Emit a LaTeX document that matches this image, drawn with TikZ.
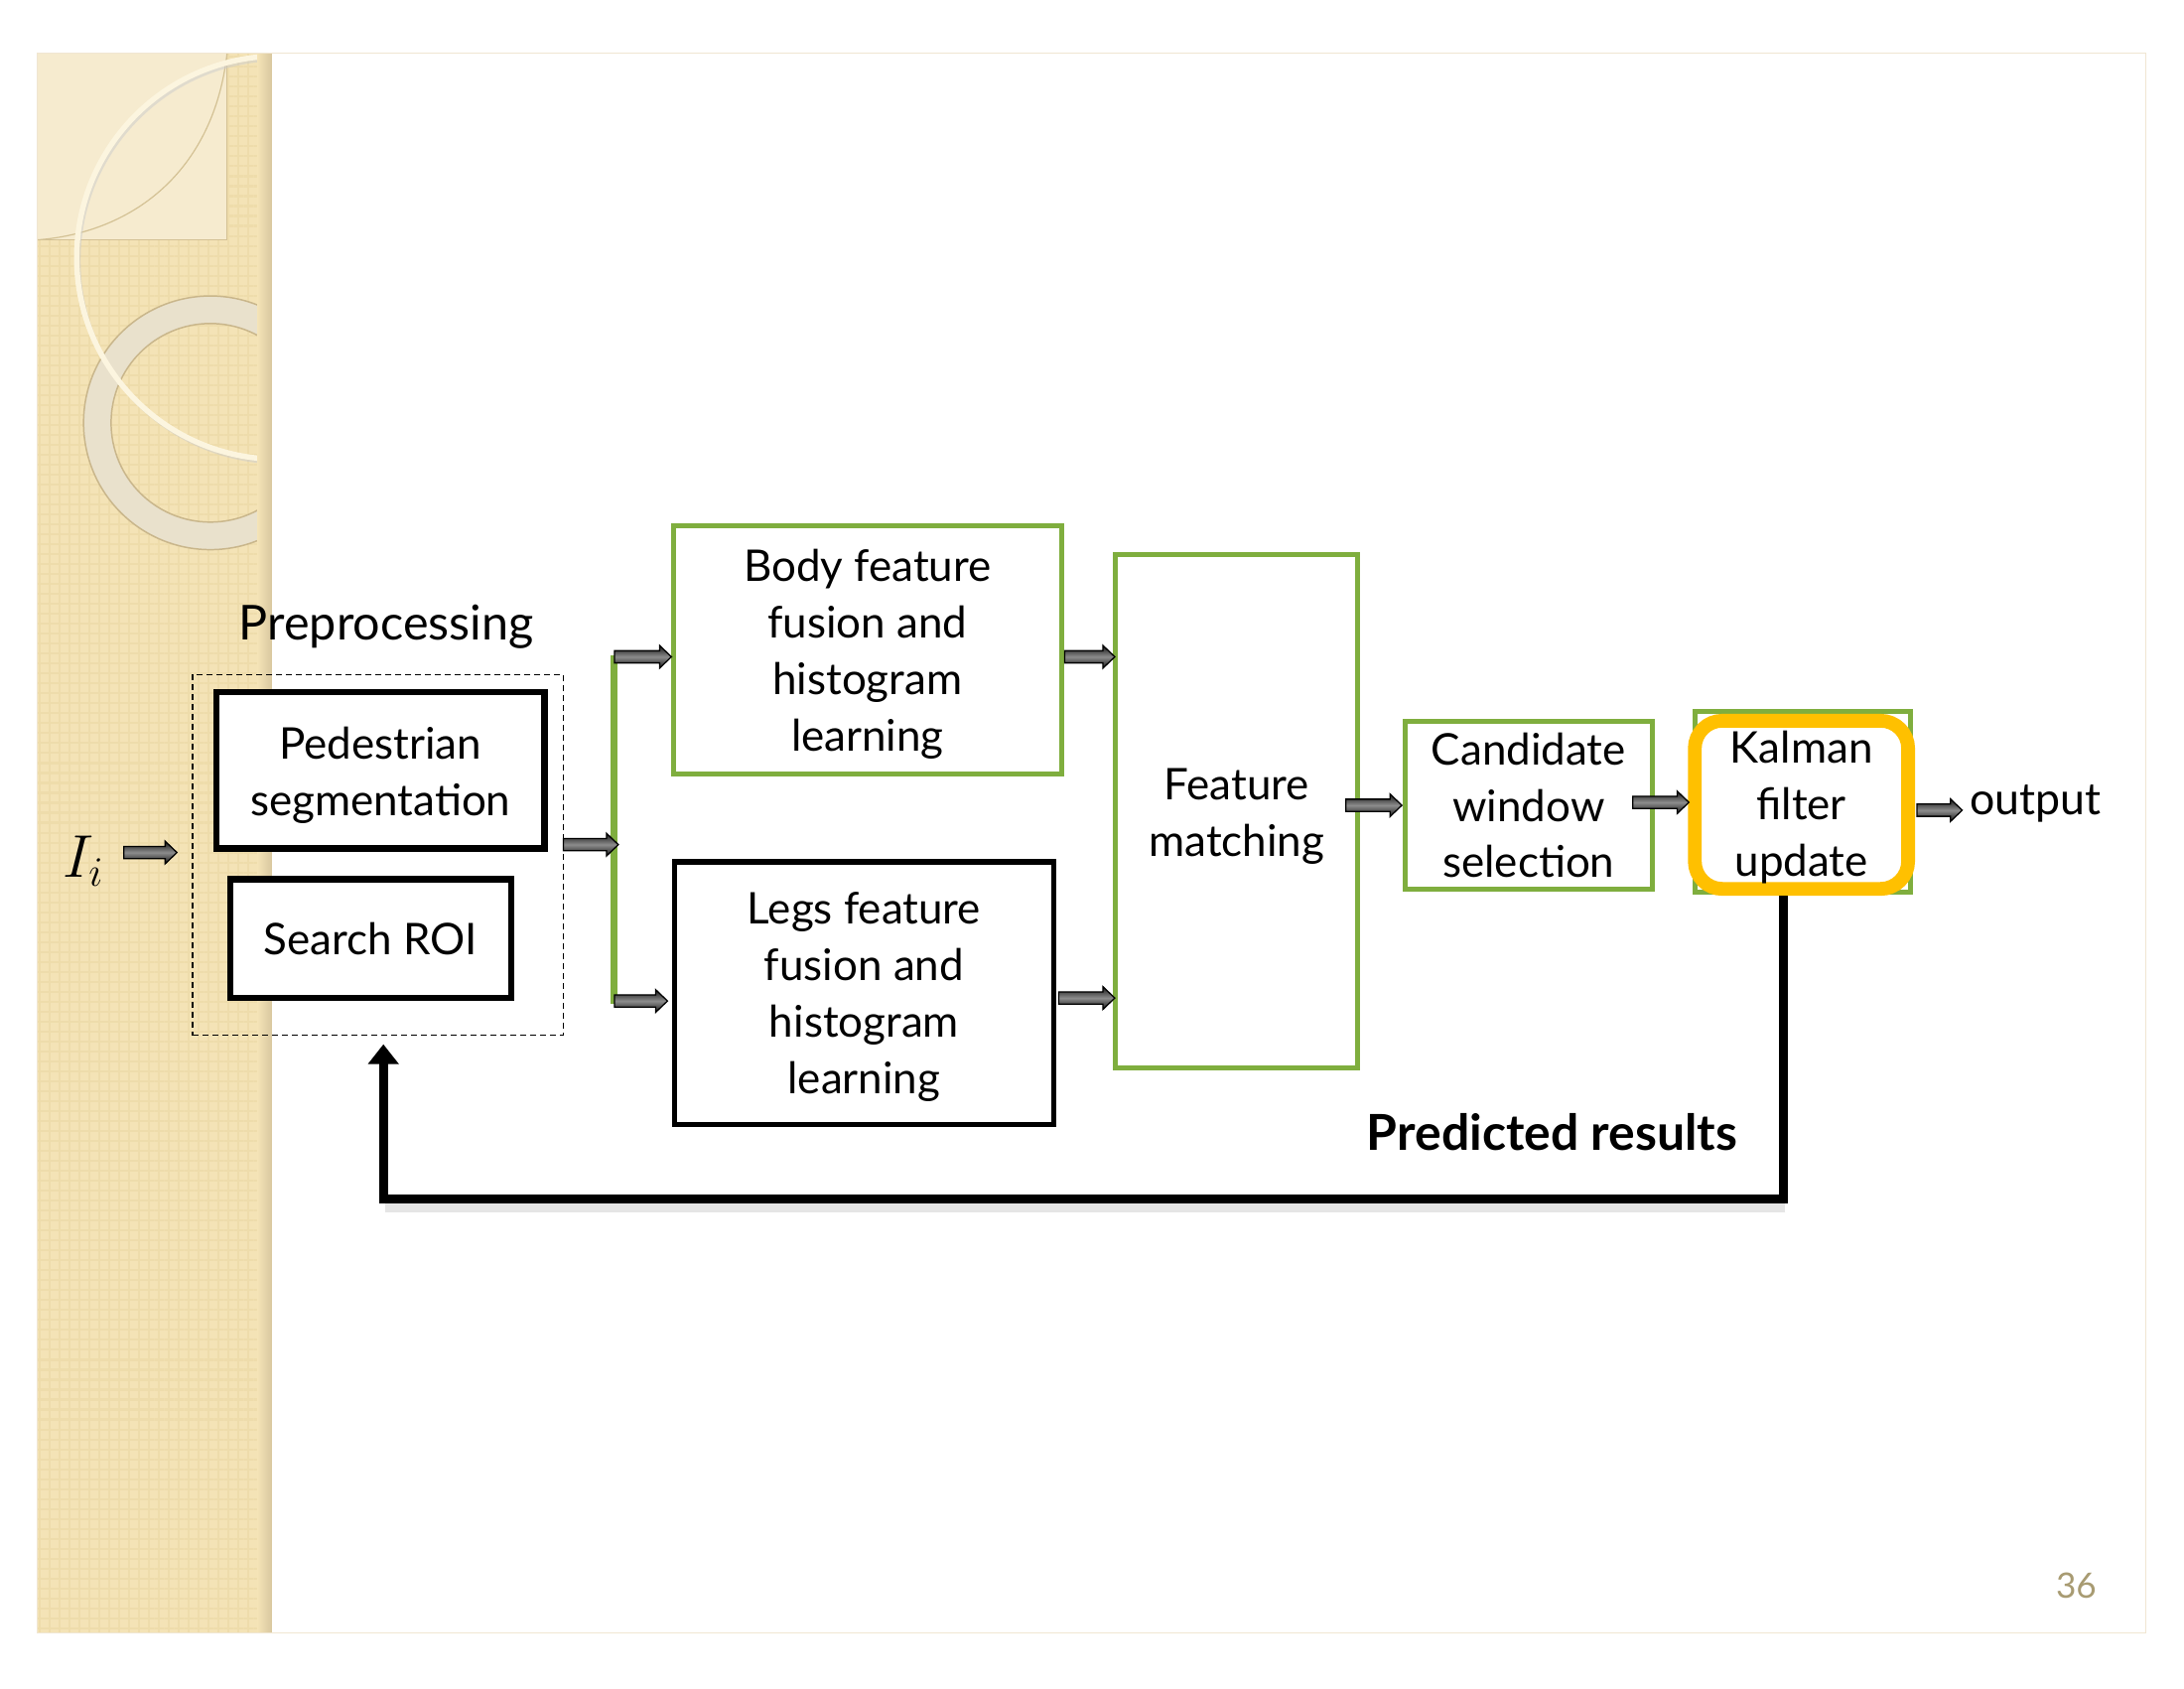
\documentclass[tikz,border=0pt]{standalone}
\usepackage{fontspec}
\setmainfont{Lato}
\usetikzlibrary{arrows.meta,calc,patterns.meta}
\definecolor{grn}{HTML}{7FAE3E}
\definecolor{org}{HTML}{FFC000}
\definecolor{strip}{HTML}{F4E3B6}
\definecolor{stripdk}{HTML}{EEDCAB}
\definecolor{stripsh}{HTML}{D9C8A0}
\definecolor{sqfill}{HTML}{F6EBCF}
\definecolor{sqline}{HTML}{D3C194}
\definecolor{ringfill}{HTML}{E9E1CC}
\definecolor{ringline}{HTML}{C9B68B}
\definecolor{cream}{HTML}{FCF5DF}
\definecolor{pgnum}{HTML}{A89B72}
\definecolor{slideframe}{HTML}{F0E6D2}
\newdimen\pxu \pxu=0.009898cm
\newcommand\tsh[1]{\rule{0pt}{#1}}
\newcommand\blockarrow[2]{\shadedraw[barrow] let \p1=(#1), \p2=(#2) in (\x1,\y1+6.2\pxu) -- (\x2-12\pxu,\y1+6.2\pxu) -- (\x2-12\pxu,\y1+11.5\pxu) -- (\x2,\y1) -- (\x2-12\pxu,\y1-11.5\pxu) -- (\x2-12\pxu,\y1-6.2\pxu) -- (\x1,\y1-6.2\pxu) -- cycle;}
\begin{document}
\begin{tikzpicture}[x=0.009898cm,y=-0.009898cm,
  every node/.style={inner sep=0pt},
  boxtxt/.style={font=\fontsize{12.5}{16.2}\selectfont, align=center},
  blackbox/.style={draw=black, fill=white, line width=6\pxu},
  greenbox/.style={draw=grn, fill=white, line width=5\pxu},
  barrow/.style={draw=black, line width=1.3\pxu, top color=black!92, bottom color=black!92, middle color=black!45}]
\useasboundingbox (0cm,0cm) rectangle (22cm,-17cm);
\fill[white] (0cm,0cm) rectangle (22cm,-17cm);
% left decorative strip
\begin{scope}
\clip (38,54) rectangle (276,1661);
\fill[strip] (38,54) rectangle (276,1661);
\fill[pattern={Hatch[angle=0,distance=2.85pt,line width=0.6pt]}, pattern color=stripdk] (38,54) rectangle (276,1661);
\filldraw[fill=sqfill, draw=sqline, line width=1.2\pxu] (38,54) rectangle (231,244);
\draw[sqline, line width=1.2\pxu] (231,54) .. controls (218,170) and (140,236) .. (38,244);
\draw[ringfill, line width=28\pxu] (214,430) circle[radius=115];
\draw[ringline, line width=1.5\pxu] (214,430) circle[radius=129] (214,430) circle[radius=101];
\draw[black!20, line width=4\pxu, opacity=0.5] (285,265) circle[radius=205];
\draw[cream, line width=5.5\pxu] (283,262) circle[radius=205];
\shade[left color=strip, right color=stripsh] (262,54) rectangle (276,1661);
\end{scope}
\draw[slideframe, line width=1\pxu] (38,54) rectangle (2183,1661);

% preprocessing
\node[font=\fontsize{13.8}{16}\selectfont] (pretitle) at (393,637) {Preprocessing};
\node[draw, line width=1.5\pxu, dash pattern=on 0.06cm off 0.04cm, minimum width=377\pxu, minimum height=367\pxu] (pre) at (384.5,869.5) {};
\node[blackbox, line width=6.5\pxu, minimum width=334\pxu, minimum height=159\pxu, boxtxt] (ped) at (387,783.5) {\tsh{11.8pt}Pedestrian\\segmentation};
\node[blackbox, line width=6.5\pxu, minimum width=286\pxu, minimum height=121\pxu, boxtxt] (roi) at (377,954.5) {Search ROI};
\node[font=\fontsize{17}{20}\selectfont] (in) at (85,876) {$I_i$};

% feature boxes
\node[greenbox, minimum width=395\pxu, minimum height=252\pxu, boxtxt] (body) at (882.5,661) {\tsh{11.5pt}Body feature\\fusion and\\histogram\\learning};
\node[blackbox, line width=5.5\pxu, minimum width=386\pxu, minimum height=267\pxu, boxtxt] (legs) at (879,1010) {\tsh{11.5pt}Legs feature\\fusion and\\histogram\\learning};
\node[greenbox, minimum width=246\pxu, minimum height=522\pxu, boxtxt] (feat) at (1258,825) {\tsh{12.2pt}Feature\\matching};
\node[greenbox, minimum width=252\pxu, minimum height=170\pxu, boxtxt] (cand) at (1555,819) {Candidate\\window\\selection};
\node[greenbox, minimum width=219\pxu, minimum height=183\pxu] (kalg) at (1833.5,815.5) {};
\node[draw=org, fill=white, line width=14\pxu, rounded corners=28\pxu, minimum width=217\pxu, minimum height=171\pxu, boxtxt] (kal) at (1832.5,818.5) {\tsh{10.8pt}Kalman\\filter\\update};
\node[anchor=west, font=\fontsize{12.7}{16}\selectfont] (out) at (2003,817) {output};
\node[anchor=east, font=\bfseries\fontsize{14.2}{16}\selectfont] (pred) at (1768,1151) {Predicted results};
\node[text=pgnum, font=\fontsize{10}{12}\selectfont] (pg) at (2112,1613) {36};

% green splitter bar
\coordinate (bart) at (625,666);
\coordinate (barb) at (625,1021);
\draw[grn, line width=7\pxu] (bart) -- (barb);

% block arrows
\coordinate (a1s) at (126,867);  \coordinate (a1e) at (180,867);
\coordinate (a2s) at (573,859);  \coordinate (a2e) at (629,859);
\coordinate (a3s) at (625,668);  \coordinate (a3e) at (683,668);
\coordinate (a4s) at (625,1018); \coordinate (a4e) at (679,1018);
\coordinate (a5s) at (1083,668); \coordinate (a5e) at (1134,668);
\coordinate (a6s) at (1077,1015);\coordinate (a6e) at (1134,1015);
\coordinate (a7s) at (1369,819); \coordinate (a7e) at (1426,819);
\coordinate (a8s) at (1661,816); \coordinate (a8e) at (1718,816);
\coordinate (a9s) at (1950,824); \coordinate (a9e) at (1996,824);
\blockarrow{a1s}{a1e}
\blockarrow{a2s}{a2e}
\blockarrow{a3s}{a3e}
\blockarrow{a4s}{a4e}
\blockarrow{a5s}{a5e}
\blockarrow{a6s}{a6e}
\blockarrow{a7s}{a7e}
\blockarrow{a8s}{a8e}
\blockarrow{a9s}{a9e}

% feedback loop
\coordinate (fb0) at (1814,911);
\coordinate (fb1) at (390,1219);
\coordinate (fb2) at (390,1062);
\draw[black!10, line width=9\pxu] (1816,1228) -- (392,1228);
\draw[line width=9\pxu, -{Triangle[length=0.2cm,width=0.3cm]}] (fb0) |- (fb1) -- (fb2);
\end{tikzpicture}
\end{document}
